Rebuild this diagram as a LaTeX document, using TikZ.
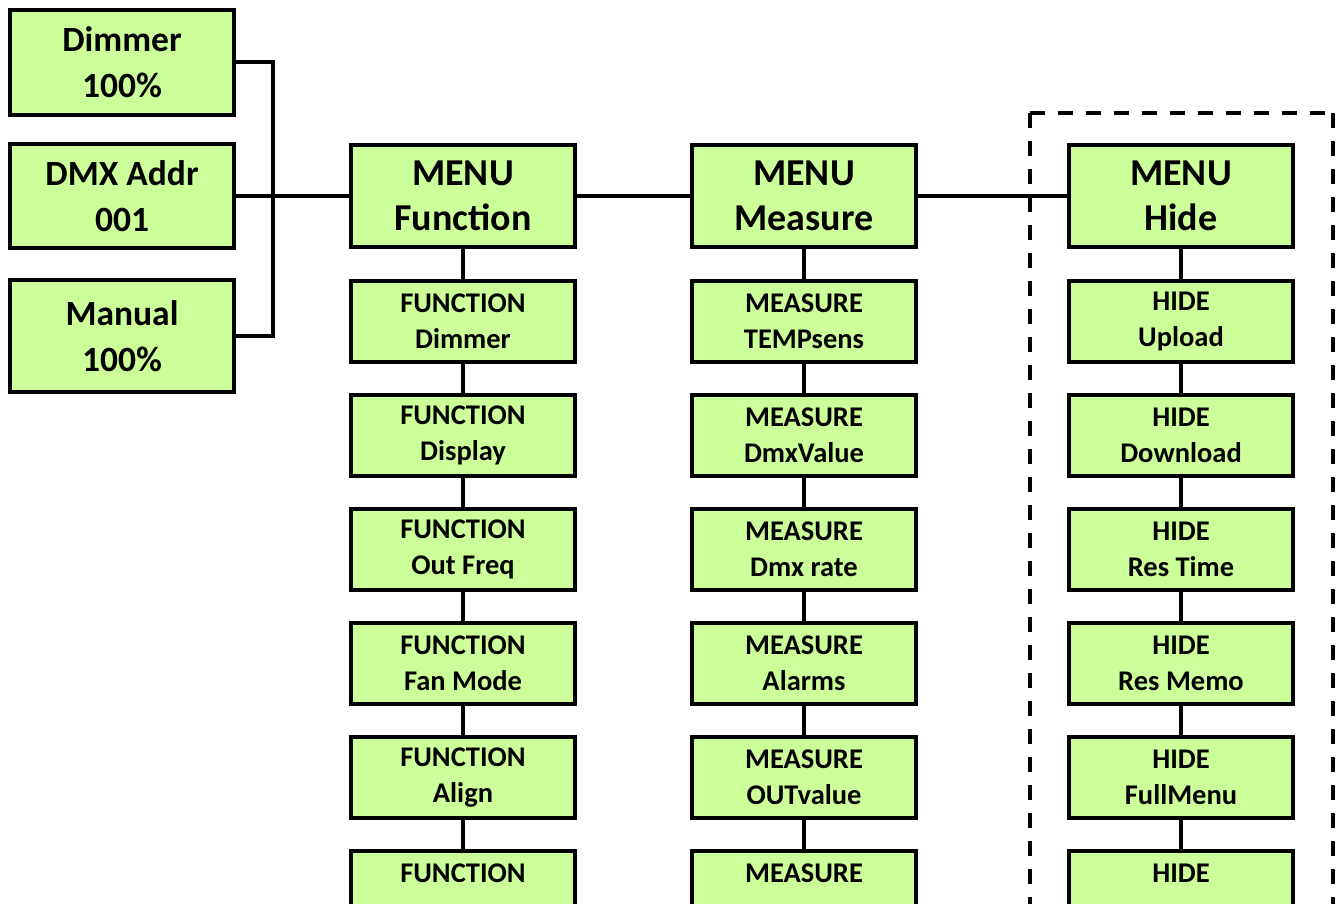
\documentclass[tikz,border=0pt]{standalone}
\usepackage{fontspec}
\setmainfont{Carlito}
\definecolor{boxgreen}{HTML}{CCFF99}
\tikzset{
  box/.style={draw=black, line width=4.5pt, fill=boxgreen, rectangle,
    minimum width=224pt, align=center, inner sep=0pt, font=\bfseries},
  bigbox/.style={box, minimum height=102pt, font=\bfseries\fontsize{38}{45}\selectfont},
  sidebox/.style={box, font=\bfseries\fontsize{35.5}{46}\selectfont},
  subbox/.style={box, minimum height=81pt, font=\bfseries\fontsize{28.5}{36}\selectfont},
  link/.style={line width=4pt},
  group/.style={line width=3.5pt, dash pattern=on 15pt off 13pt}
}
\begin{document}
\begin{tikzpicture}[x=1pt, y=-1pt]
\useasboundingbox (0,0) rectangle (1341,904);
\clip (0,0) rectangle (1341,904);

% dashed frame around the Hide column
\draw[group] (1030,113) -- (1333,113) (1030,113) -- (1030,1000) (1333,113) -- (1333,1000);

% start-up displays
\node[sidebox, minimum height=105pt] (dim) at (122,62.5) {Dimmer\\100\%};
\node[sidebox, minimum height=104pt] (dmx) at (122,196) {DMX Addr\\001};
\node[sidebox, minimum height=112pt] (man) at (122,336) {Manual\\100\%};

% main menus
\node[bigbox] (mf) at (463,196) {MENU\\Function};
\node[bigbox] (mm) at (804,196) {MENU\\Measure};
\node[bigbox] (mh) at (1181,196) {MENU\\Hide};

% FUNCTION items
\node[subbox] (f1) at (463,321.5) {FUNCTION\\Dimmer};
\node[subbox] (f2) at (463,435.5) {FUNCTION\\Display};
\node[subbox] (f3) at (463,549.5) {FUNCTION\\Out Freq};
\node[subbox] (f4) at (463,663.5) {FUNCTION\\Fan Mode};
\node[subbox] (f5) at (463,777.5) {FUNCTION\\Align};
\node[subbox] (f6) at (463,891.5) {FUNCTION\\\mbox{}};

% MEASURE items
\node[subbox] (m1) at (804,321.5) {MEASURE\\TEMPsens};
\node[subbox] (m2) at (804,435.5) {MEASURE\\DmxValue};
\node[subbox] (m3) at (804,549.5) {MEASURE\\Dmx rate};
\node[subbox] (m4) at (804,663.5) {MEASURE\\Alarms};
\node[subbox] (m5) at (804,777.5) {MEASURE\\OUTvalue};
\node[subbox] (m6) at (804,891.5) {MEASURE\\\mbox{}};

% HIDE items
\node[subbox] (h1) at (1181,321.5) {HIDE\\Upload};
\node[subbox] (h2) at (1181,435.5) {HIDE\\Download};
\node[subbox] (h3) at (1181,549.5) {HIDE\\Res Time};
\node[subbox] (h4) at (1181,663.5) {HIDE\\Res Memo};
\node[subbox] (h5) at (1181,777.5) {HIDE\\FullMenu};
\node[subbox] (h6) at (1181,891.5) {HIDE\\\mbox{}};

% connectors
\draw[link] (dim.east) -- ++(37,0) |- (man.east);
\draw[link] (dmx.east) -- (mf.west);
\draw[link] (mf.east) -- (mm.west);
\draw[link] (mm.east) -- (mh.west);
\foreach \c in {f,m,h} {
  \draw[link] (\c1.south) -- (\c2.north);
  \draw[link] (\c2.south) -- (\c3.north);
  \draw[link] (\c3.south) -- (\c4.north);
  \draw[link] (\c4.south) -- (\c5.north);
  \draw[link] (\c5.south) -- (\c6.north);
}
\draw[link] (mf.south) -- (f1.north);
\draw[link] (mm.south) -- (m1.north);
\draw[link] (mh.south) -- (h1.north);
\end{tikzpicture}
\end{document}
